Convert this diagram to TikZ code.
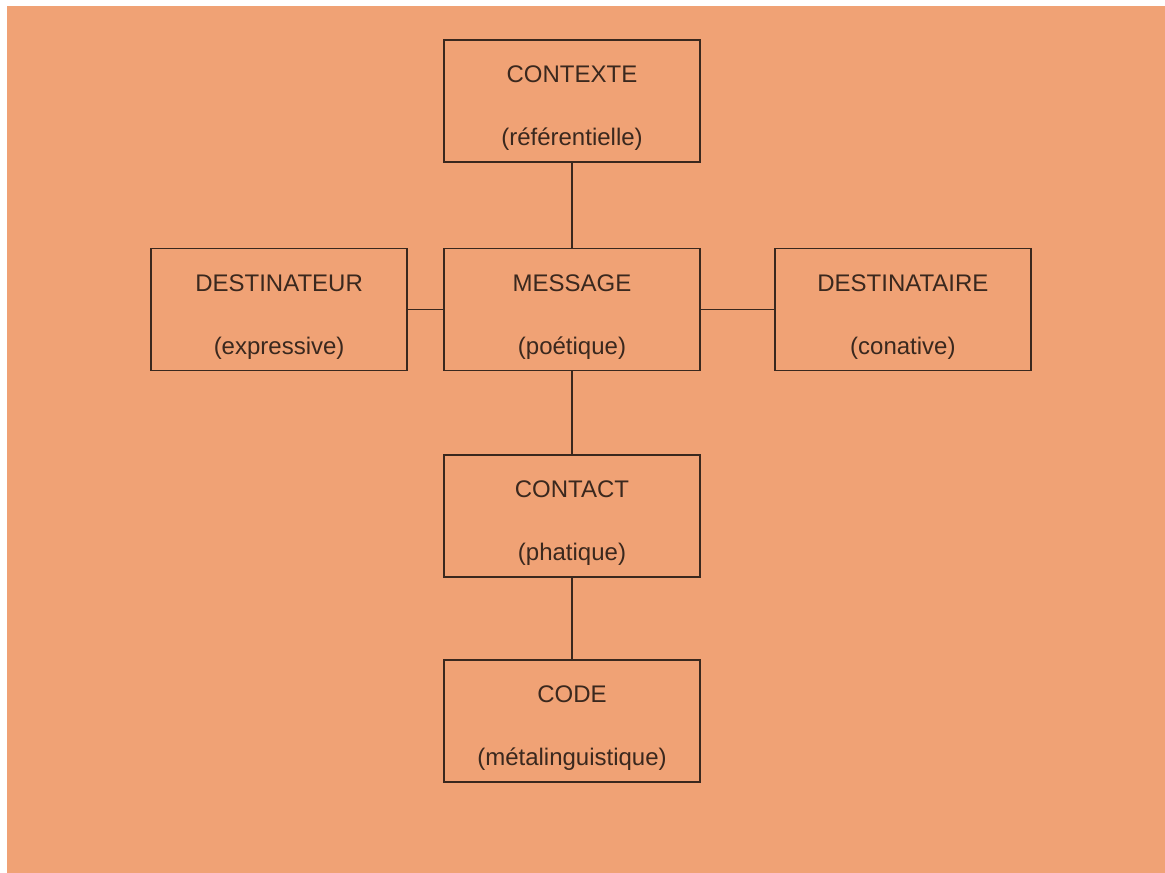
\documentclass[tikz,border=0pt]{standalone}
\usepackage{fontspec}
\setmainfont{Liberation Sans}
\usepackage{tikz}
\usepackage{xcolor}
\usetikzlibrary{positioning}
\definecolor{fnpeach}{RGB}{240, 162, 117}
\definecolor{fnbrown}{RGB}{58, 40, 30}
\newcommand{\fnlabel}[2]{\rule{0pt}{31pt}#1\\#2}
\tikzset{
    fnbox/.style={rectangle, draw=fnbrown, line width=1.9pt, minimum width=256pt, minimum height=122pt, inner sep=0pt, align=center, text=fnbrown, font=\fontsize{24}{63}\selectfont},
    fnlink/.style={draw=fnbrown, line width=1.9pt}
}

\begin{document}
\begin{tikzpicture}[x=1pt, y=1pt]
    \useasboundingbox (0,0) rectangle (1165,873);
    \fill[white] (0,0) rectangle (1165,873);
    \fill[fnpeach] (7,-10) rectangle (1175,867);
    % central message and the five functions around it
    \node[fnbox] (message) at (572,563.5) {\fnlabel{MESSAGE}{(poétique)}};
    \node[fnbox, above=85pt of message] (contexte) {\fnlabel{CONTEXTE}{(référentielle)}};
    \node[fnbox, left=35pt of message] (destinateur) {\fnlabel{DESTINATEUR}{(expressive)}};
    \node[fnbox, right=73pt of message] (destinataire) {\fnlabel{DESTINATAIRE}{(conative)}};
    \node[fnbox, below=83pt of message] (contact) {\fnlabel{CONTACT}{(phatique)}};
    \node[fnbox, below=81pt of contact] (code) {\fnlabel{CODE}{(métalinguistique)}};
    \draw[fnlink] (contexte) -- (message);
    \draw[fnlink] (destinateur) -- (message);
    \draw[fnlink] (message) -- (destinataire);
    \draw[fnlink] (message) -- (contact);
    \draw[fnlink] (contact) -- (code);
\end{tikzpicture}
\end{document}
